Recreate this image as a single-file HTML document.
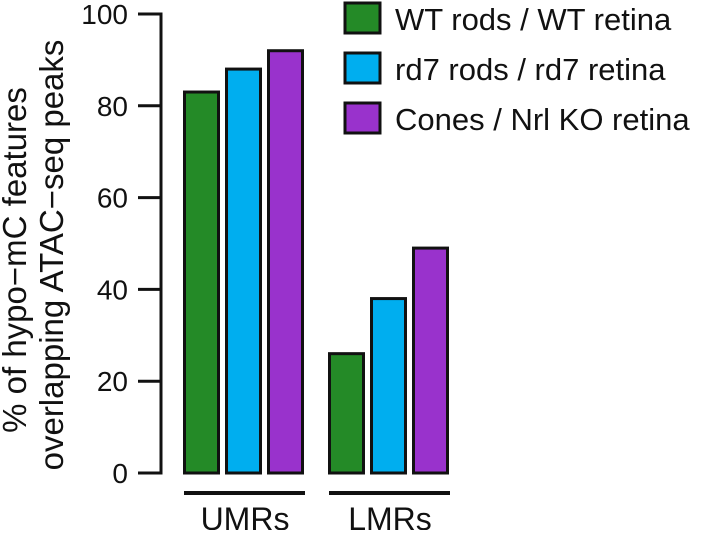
<!DOCTYPE html>
<html><head><meta charset="utf-8"><style>
body{margin:0;background:#fff}
svg text{font-family:"Liberation Sans",Arial,sans-serif;fill:#111}
</style></head><body>
<svg width="709" height="530" viewBox="0 0 709 530">
<g id="g"></g>
</svg>
<script>
const groups=["UMRs","LMRs"];
const seriesNames=["WT rods / WT retina","rd7 rods / rd7 retina","Cones / Nrl KO retina"];
const wtValues=[83,26];
const rd7Values=[88,38];
const coneValues=[92,49];
const yTicks=[0,20,40,60,80,100];
const colors=["#248a27","#00aeef","#9932cc"];
const g=document.getElementById('g');
const NS="http://www.w3.org/2000/svg";
function y(v){return 473-v*(473-14)/100;}
function mk(t,a,p){const e=document.createElementNS(NS,t);for(const k in a)e.setAttribute(k,a[k]);(p||g).appendChild(e);return e;}
const ax=mk('path',{d:'M138 14H161V473H138',fill:'none',stroke:'#111','stroke-width':3});


yTicks.forEach(v=>{
 const tk=mk('line',{x1:138,x2:161,y1:y(v),y2:y(v),stroke:'#111','stroke-width':3});
 
 
 const t=mk('text',{x:128,y:y(v)+10,'text-anchor':'end','font-size':28});
 t.textContent=v;
 
 
});
const series=[wtValues,rd7Values,coneValues];
const groupX=[183,328];
groups.forEach((gn,gi)=>{
 series.forEach((vals,si)=>{
  const x0=groupX[gi]+si*42;
  const r=mk('rect',{x:x0+1.5,y:y(vals[gi]),width:34,height:473-y(vals[gi]),fill:colors[si],stroke:'#111','stroke-width':3});
  
  
 });
 const l=mk('line',{x1:groupX[gi]+1,x2:groupX[gi]+122,y1:493,y2:493,stroke:'#111','stroke-width':4});
 
 
 const t=mk('text',{x:groupX[gi]+62,y:530,'text-anchor':'middle','font-size':32});
 t.textContent=gn;
 
 
});
seriesNames.forEach((n,i)=>{
 const r=mk('rect',{x:345,y:3+i*50,width:35,height:30,fill:colors[i],stroke:'#111','stroke-width':3});
 
 
 const t=mk('text',{x:395,y:30+i*50,'font-size':31});
 t.textContent=n;
 
 
});
const yt=mk('text',{transform:'translate(26,260) rotate(-90)','text-anchor':'middle','font-size':33});
yt.textContent='% of hypo\u2212mC features';


const yt2=mk('text',{transform:'translate(63,255) rotate(-90)','text-anchor':'middle','font-size':33});
yt2.textContent='overlapping ATAC\u2212seq peaks';


</script>
</body></html>
